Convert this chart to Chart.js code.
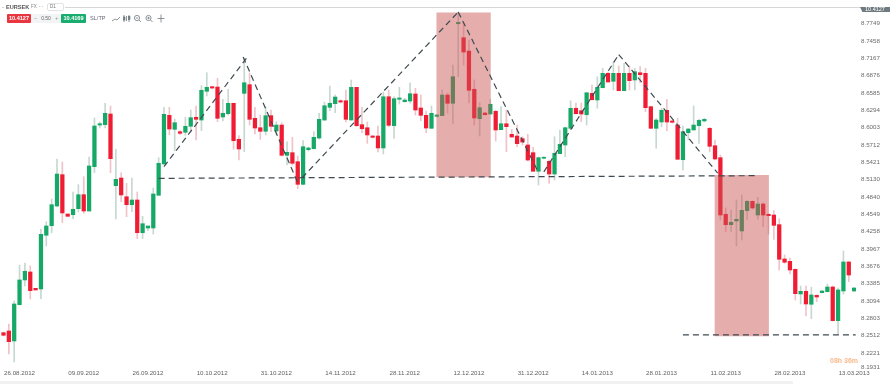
<!DOCTYPE html>
<html>
<head>
<meta charset="utf-8">
<script src="https://cdn.jsdelivr.net/npm/chart.js@4"></script>
<style>
html,body{margin:0;padding:0;background:#fff;overflow:hidden}
#wrap{position:relative;width:890px;height:384px;font-family:"Liberation Sans",Arial,sans-serif}
canvas{position:absolute;left:0;top:0}
.t{position:absolute;white-space:nowrap;line-height:1}
</style>
</head>
<body>
<div id="wrap">
<canvas id="c" width="890" height="384"></canvas>
<div style="position:absolute;left:65px;top:7px;width:795px;height:1px;background:#d6d6d6"></div>
<div class="t" style="left:2px;top:5px;font-size:5.6px;color:#888">-</div>
<div class="t" style="left:6px;top:5px;font-size:5.6px;font-weight:bold;color:#555">EURSEK</div>
<div class="t" style="left:31px;top:5px;font-size:4.6px;color:#888">FX</div>
<div class="t" style="left:39px;top:5px;font-size:4.6px;color:#999">- -</div>
<div style="position:absolute;left:47px;top:3px;width:17px;height:8px;border:1px solid #e2e2e2;border-radius:2px;box-sizing:border-box"></div>
<div class="t" style="left:50px;top:5px;font-size:4.6px;color:#777">D1</div>
<div class="t" style="left:7px;top:14px;width:24px;height:9px;background:#e9353f;color:#fff;font-size:5.6px;font-weight:bold;line-height:9px;text-align:center;border-radius:1px">10.4127</div>
<div class="t" style="left:31px;top:14px;width:30px;height:9px;background:#f2f4f5;color:#666;font-size:5px;line-height:9px;text-align:center">0.50</div>
<div class="t" style="left:34px;top:14px;font-size:6px;line-height:9px;color:#999">−</div>
<div class="t" style="left:55px;top:14px;font-size:6px;line-height:9px;color:#999">+</div>
<div class="t" style="left:61px;top:14px;width:25px;height:9px;background:#19ae6f;color:#fff;font-size:5.6px;font-weight:bold;line-height:9px;text-align:center;border-radius:1px">10.4169</div>
<div class="t" style="left:90px;top:16px;font-size:5.6px;color:#667">SL/TP</div>
<svg style="position:absolute;left:108px;top:12px" width="60" height="14" fill="none" stroke="#707a80" stroke-width="0.8">
<polyline points="4,9 7,7 9,8 12,5"/>
<path d="M16,3V10M18.5,4V9M21,3V10"/><rect x="15.5" y="5" width="1.4" height="3" fill="#707a80"/><rect x="20.5" y="4.5" width="1.4" height="3" fill="#707a80"/>
<circle cx="29" cy="6" r="2.6"/><path d="M31,8L33,10M27.8,6H30.2"/>
<circle cx="40.5" cy="6" r="2.6"/><path d="M42.5,8L44.5,10M39.3,6H41.7M40.5,4.8V7.2"/>
<path d="M53,2.5V10.5M49.5,6.5H56.5"/>
</svg>
<div class="t" style="left:860px;top:7px;width:30px;height:5px;overflow:hidden;background:#6f7a80;color:#fff;font-size:5.5px;line-height:5px;text-align:center;clip-path:polygon(0 0,100% 0,100% 100%,8% 100%)">10.4127</div>
<div class="t" style="left:830px;top:357px;font-size:7px;font-weight:bold;color:#f7b98c">08h 36m</div>
<div style="position:absolute;left:0;top:381px;width:793px;height:3px;background:#f1f1f1"></div>
</div>
<script>
const dateLabels = ["26.08.2012","09.09.2012","26.09.2012","10.10.2012","31.10.2012","14.11.2012","28.11.2012","12.12.2012","31.12.2012","14.01.2013","28.01.2013","11.02.2013","28.02.2013","13.03.2013"];
const dateIndexes = [3,15,27,39,51,63,75,87,99,111,123,135,147,159];
const yTickValues = [8.7749,8.7458,8.7167,8.6876,8.6585,8.6294,8.6003,8.5712,8.5421,8.5130,8.4840,8.4549,8.4258,8.3967,8.3676,8.3385,8.3094,8.2803,8.2512,8.2221,8.1985];
const yTickLabels = ["8.7749","8.7458","8.7167","8.6876","8.6585","8.6294","8.6003","8.5712","8.5421","8.5130","8.4840","8.4549","8.4258","8.3967","8.3676","8.3385","8.3094","8.2803","8.2512","8.2221","8.1931"];

const opens = [8.2562,8.2591,8.2423,8.3032,8.3447,8.3581,8.3307,8.3296,8.4197,8.4358,
8.4688,8.5214,8.4554,8.4542,8.4643,8.4878,8.4604,8.5348,8.6047,8.6053,
8.6232,8.5029,8.5158,8.4844,8.4710,8.4789,8.4240,8.4319,8.4319,8.4868,
8.5393,8.6210,8.5975,8.5935,8.5925,8.6026,8.6177,8.6131,8.6613,8.6690,
8.6685,8.6182,8.6237,8.6412,8.5808,8.6579,8.6724,8.6160,8.6002,8.5942,
8.6204,8.5947,8.6047,8.5539,8.5583,8.5432,8.5052,8.5633,8.5650,8.5829,
8.6131,8.6344,8.6405,8.6455,8.6455,8.6131,8.6680,8.6053,8.6002,8.5863,
8.5863,8.5662,8.6522,8.6036,8.6479,8.6438,8.6450,8.6568,8.6333,8.6210,
8.5992,8.6193,8.6204,8.6551,8.6412,8.7747,8.7512,8.7289,8.6647,8.6153,
8.6249,8.6232,8.6277,8.5969,8.6069,8.5891,8.5863,8.5818,8.5712,8.5583,
8.5271,8.5489,8.5438,8.5225,8.5566,8.5712,8.5992,8.6328,8.6287,8.6220,
8.6579,8.6467,8.6673,8.6915,8.6781,8.6915,8.6623,8.6915,8.6803,8.6925,
8.6915,8.6355,8.5992,8.6098,8.6294,8.6115,8.6047,8.5465,8.5918,8.5964,
8.6036,8.6115,8.5992,8.5700,8.5499,8.4549,8.4375,8.4437,8.4269,8.4610,
8.4767,8.4537,8.4722,8.4549,8.4537,8.4375,8.3799,8.3760,8.3626,8.3212,
8.3257,8.3039,8.3190,8.3234,8.3250,8.3329,8.2764,8.3262,8.3749,8.3262];

const closes = [8.2519,8.2411,8.3044,8.3447,8.3593,8.3267,8.3279,8.4213,8.4353,8.4710,
8.5225,8.4571,8.4515,8.4633,8.4878,8.4604,8.5360,8.6031,8.6069,8.6244,
8.5482,8.5136,8.4873,8.4710,8.4789,8.4240,8.4391,8.4353,8.4890,8.5405,
8.6227,8.5980,8.6086,8.5908,8.6026,8.6170,8.6143,8.6630,8.6680,8.6668,
8.6160,8.6244,8.6412,8.5784,8.5645,8.6757,8.6143,8.5997,8.5942,8.6204,
8.6026,8.6047,8.5539,8.5589,8.5405,8.5052,8.5683,8.5662,8.5841,8.6143,
8.6371,8.6412,8.6517,8.6433,8.6143,8.6680,8.6036,8.5985,8.5880,8.5841,
8.5662,8.6522,8.6042,8.6489,8.6501,8.6467,8.6573,8.6299,8.6210,8.5997,
8.6244,8.6215,8.6551,8.6412,8.6858,8.7771,8.7272,8.6630,8.6165,8.6338,
8.6220,8.6395,8.5964,8.6069,8.6019,8.5846,8.5734,8.5762,8.5460,8.5271,
8.5499,8.5505,8.5225,8.5573,8.5724,8.6002,8.6328,8.6237,8.6232,8.6589,
8.6472,8.6680,8.6915,8.6769,8.6915,8.6623,8.6915,8.6791,8.6942,8.6892,
8.6338,8.5992,8.6131,8.6294,8.6098,8.6093,8.5472,8.5935,8.5980,8.6047,
8.6126,8.6143,8.5690,8.5477,8.4537,8.4375,8.4415,8.4465,8.4616,8.4767,
8.4655,8.4722,8.4537,8.4526,8.4364,8.3794,8.3744,8.3614,8.3217,8.3257,
8.3044,8.3195,8.3161,8.3262,8.3329,8.2764,8.3279,8.3749,8.3530,8.3312];

const highs = [8.2574,8.2708,8.3094,8.3698,8.3732,8.3682,8.3307,8.4302,8.4425,8.4806,
8.5477,8.5427,8.4554,8.4923,8.5046,8.5180,8.5511,8.6165,8.6098,8.6412,
8.6366,8.5640,8.5247,8.5069,8.5158,8.4923,8.4515,8.4353,8.4990,8.5499,
8.6344,8.6344,8.6148,8.5952,8.6177,8.6299,8.6366,8.6707,8.6925,8.6702,
8.6831,8.6479,8.6647,8.6412,8.5868,8.7167,8.6920,8.6344,8.6215,8.6350,
8.6299,8.6103,8.6086,8.5767,8.5841,8.5527,8.5784,8.5678,8.5935,8.6244,
8.6433,8.6702,8.6551,8.6472,8.6635,8.6803,8.6680,8.6344,8.6098,8.5871,
8.6031,8.6601,8.6635,8.6522,8.6680,8.6496,8.6757,8.6663,8.6551,8.6282,
8.6366,8.6227,8.6635,8.6584,8.7054,8.7944,8.7764,8.7474,8.6803,8.6422,
8.6257,8.6479,8.6299,8.6355,8.6299,8.5975,8.6047,8.5851,8.5891,8.5673,
8.5511,8.5519,8.5460,8.5851,8.5964,8.6014,8.6455,8.6417,8.6417,8.6589,
8.6719,8.6858,8.6999,8.6937,8.7110,8.7038,8.7083,8.7038,8.6999,8.7026,
8.6999,8.6366,8.6160,8.6328,8.6479,8.6131,8.6160,8.6031,8.5992,8.6366,
8.6143,8.6160,8.6009,8.5796,8.5544,8.4655,8.4621,8.4789,8.4873,8.4789,
8.4777,8.4834,8.4739,8.4554,8.4610,8.4475,8.3866,8.3816,8.3631,8.3346,
8.3346,8.3324,8.3195,8.3270,8.3379,8.3346,8.3312,8.3933,8.3757,8.3321];

const lows = [8.2507,8.2205,8.2071,8.3027,8.3346,8.3128,8.3279,8.3133,8.4017,8.4240,
8.4672,8.4408,8.4515,8.4475,8.4588,8.4566,8.4604,8.5247,8.5997,8.5997,
8.5247,8.4470,8.4761,8.4509,8.4593,8.4140,8.4140,8.4274,8.4218,8.4868,
8.5393,8.5885,8.5616,8.5885,8.5875,8.5930,8.5796,8.5952,8.6534,8.6652,
8.6103,8.6115,8.6215,8.5640,8.5460,8.5599,8.6047,8.5896,8.5808,8.5880,
8.5935,8.5880,8.5527,8.5376,8.5376,8.4979,8.5041,8.5611,8.5645,8.5808,
8.6120,8.6287,8.6254,8.6417,8.6098,8.6131,8.6019,8.5918,8.5740,8.5829,
8.5594,8.5561,8.6019,8.5824,8.6400,8.6433,8.6412,8.6215,8.6120,8.5918,
8.5992,8.6177,8.6204,8.6244,8.6076,8.6858,8.7054,8.6417,8.6047,8.5863,
8.6215,8.6232,8.5779,8.5969,8.5599,8.5838,8.5683,8.5712,8.5443,8.5268,
8.5041,8.5477,8.5069,8.5125,8.5566,8.5516,8.5992,8.6232,8.6103,8.6047,
8.6467,8.6328,8.6673,8.6769,8.6635,8.6623,8.6623,8.6635,8.6635,8.6752,
8.6271,8.5992,8.5657,8.6019,8.5952,8.6081,8.5472,8.5292,8.5796,8.5964,
8.5740,8.6098,8.5599,8.5460,8.4453,8.4257,8.4257,8.4017,8.4118,8.4465,
8.4633,8.4465,8.4341,8.4218,8.4129,8.3614,8.3727,8.3547,8.3111,8.3044,
8.2843,8.2797,8.3083,8.3228,8.3245,8.2759,8.2540,8.3207,8.3418,8.3254];

const zoneCenters = [86,138];
const zoneTops = [8.7932,8.5203];
const zoneBottoms = [8.5175,8.2507];

const necklineA = [{x:29,y:8.5152},{x:141,y:8.5197}];
const necklineB = [{x:127,y:8.2524},{x:159.3,y:8.2524}];
const leg1 = [{x:30,y:8.5350},{x:45.6,y:8.7190}];
const leg2 = [{x:44.8,y:8.7190},{x:55,y:8.5080}];
const leg3 = [{x:55.8,y:8.5160},{x:85,y:8.7944}];
const leg4 = [{x:85,y:8.7944},{x:100,y:8.5250}];
const leg5 = [{x:101,y:8.5260},{x:115,y:8.7230}];
const leg6 = [{x:115,y:8.7230},{x:133.5,y:8.5240}];

const idx = opens.map((_, i) => i);
const GREEN = "#16a866", RED = "#ef1c34", GREEN_W = "#c6d8d0", RED_W = "#efc3c8";
const isUp = i => closes[i] >= opens[i];

function lineDs(pts){
  return {type:"line",data:pts,borderColor:"#3e4a50",borderWidth:1.2,borderDash:[6,4],pointRadius:0,fill:false,tension:0,order:0,clip:false};
}

new Chart(document.getElementById("c"),{
  data:{datasets:[
    {type:"bar",data:idx.map(i=>({x:i,y:[lows[i],highs[i]]})),backgroundColor:idx.map(i=>isUp(i)?GREEN_W:RED_W),barThickness:1,grouped:false,order:5},
    {type:"bar",data:idx.map(i=>({x:i,y:[Math.min(opens[i],closes[i]),Math.max(opens[i],closes[i])]})),backgroundColor:idx.map(i=>isUp(i)?GREEN:RED),barThickness:3.6,minBarLength:1,grouped:false,order:4},
    {type:"bar",data:zoneCenters.map((c,i)=>({x:c,y:[zoneBottoms[i],zoneTops[i]]})),backgroundColor:"rgba(203,84,84,0.48)",barThickness:53.6,grouped:false,order:1},
    lineDs(necklineA),lineDs(necklineB),lineDs(leg1),lineDs(leg2),lineDs(leg3),lineDs(leg4),lineDs(leg5),lineDs(leg6)
  ]},
  options:{
    responsive:false,animation:false,
    layout:{padding:{top:8,left:0,right:0,bottom:0}},
    plugins:{legend:{display:false},tooltip:{enabled:false}},
    scales:{
      x:{type:"linear",offset:false,min:-0.654,max:159.35,grid:{display:false,drawTicks:false,offset:false},border:{display:false},
        afterBuildTicks(s){s.ticks=dateIndexes.map(v=>({value:v}));},
        afterFit(s){s.height=14;s.paddingLeft=0;s.paddingRight=0;},
        ticks:{autoSkip:false,maxRotation:0,padding:0,font:{size:6.2,family:"Liberation Sans"},color:"#5f5f5f",
          callback(v){const k=dateIndexes.indexOf(v);return k<0?"":dateLabels[k];}}},
      y:{position:"right",min:8.1936,max:8.8011,grid:{display:false,drawTicks:false},border:{display:false},
        afterBuildTicks(s){s.ticks=yTickValues.map(v=>({value:v}));},
        afterFit(s){s.width=34;s.paddingTop=0;s.paddingBottom=0;},
        ticks:{autoSkip:false,padding:5,font:{size:6.2,family:"Liberation Sans"},color:"#6a6a6a",
          callback(v){const k=yTickValues.indexOf(v);return k<0?"":yTickLabels[k];}}}
    }
  }
});
</script>
</body>
</html>
